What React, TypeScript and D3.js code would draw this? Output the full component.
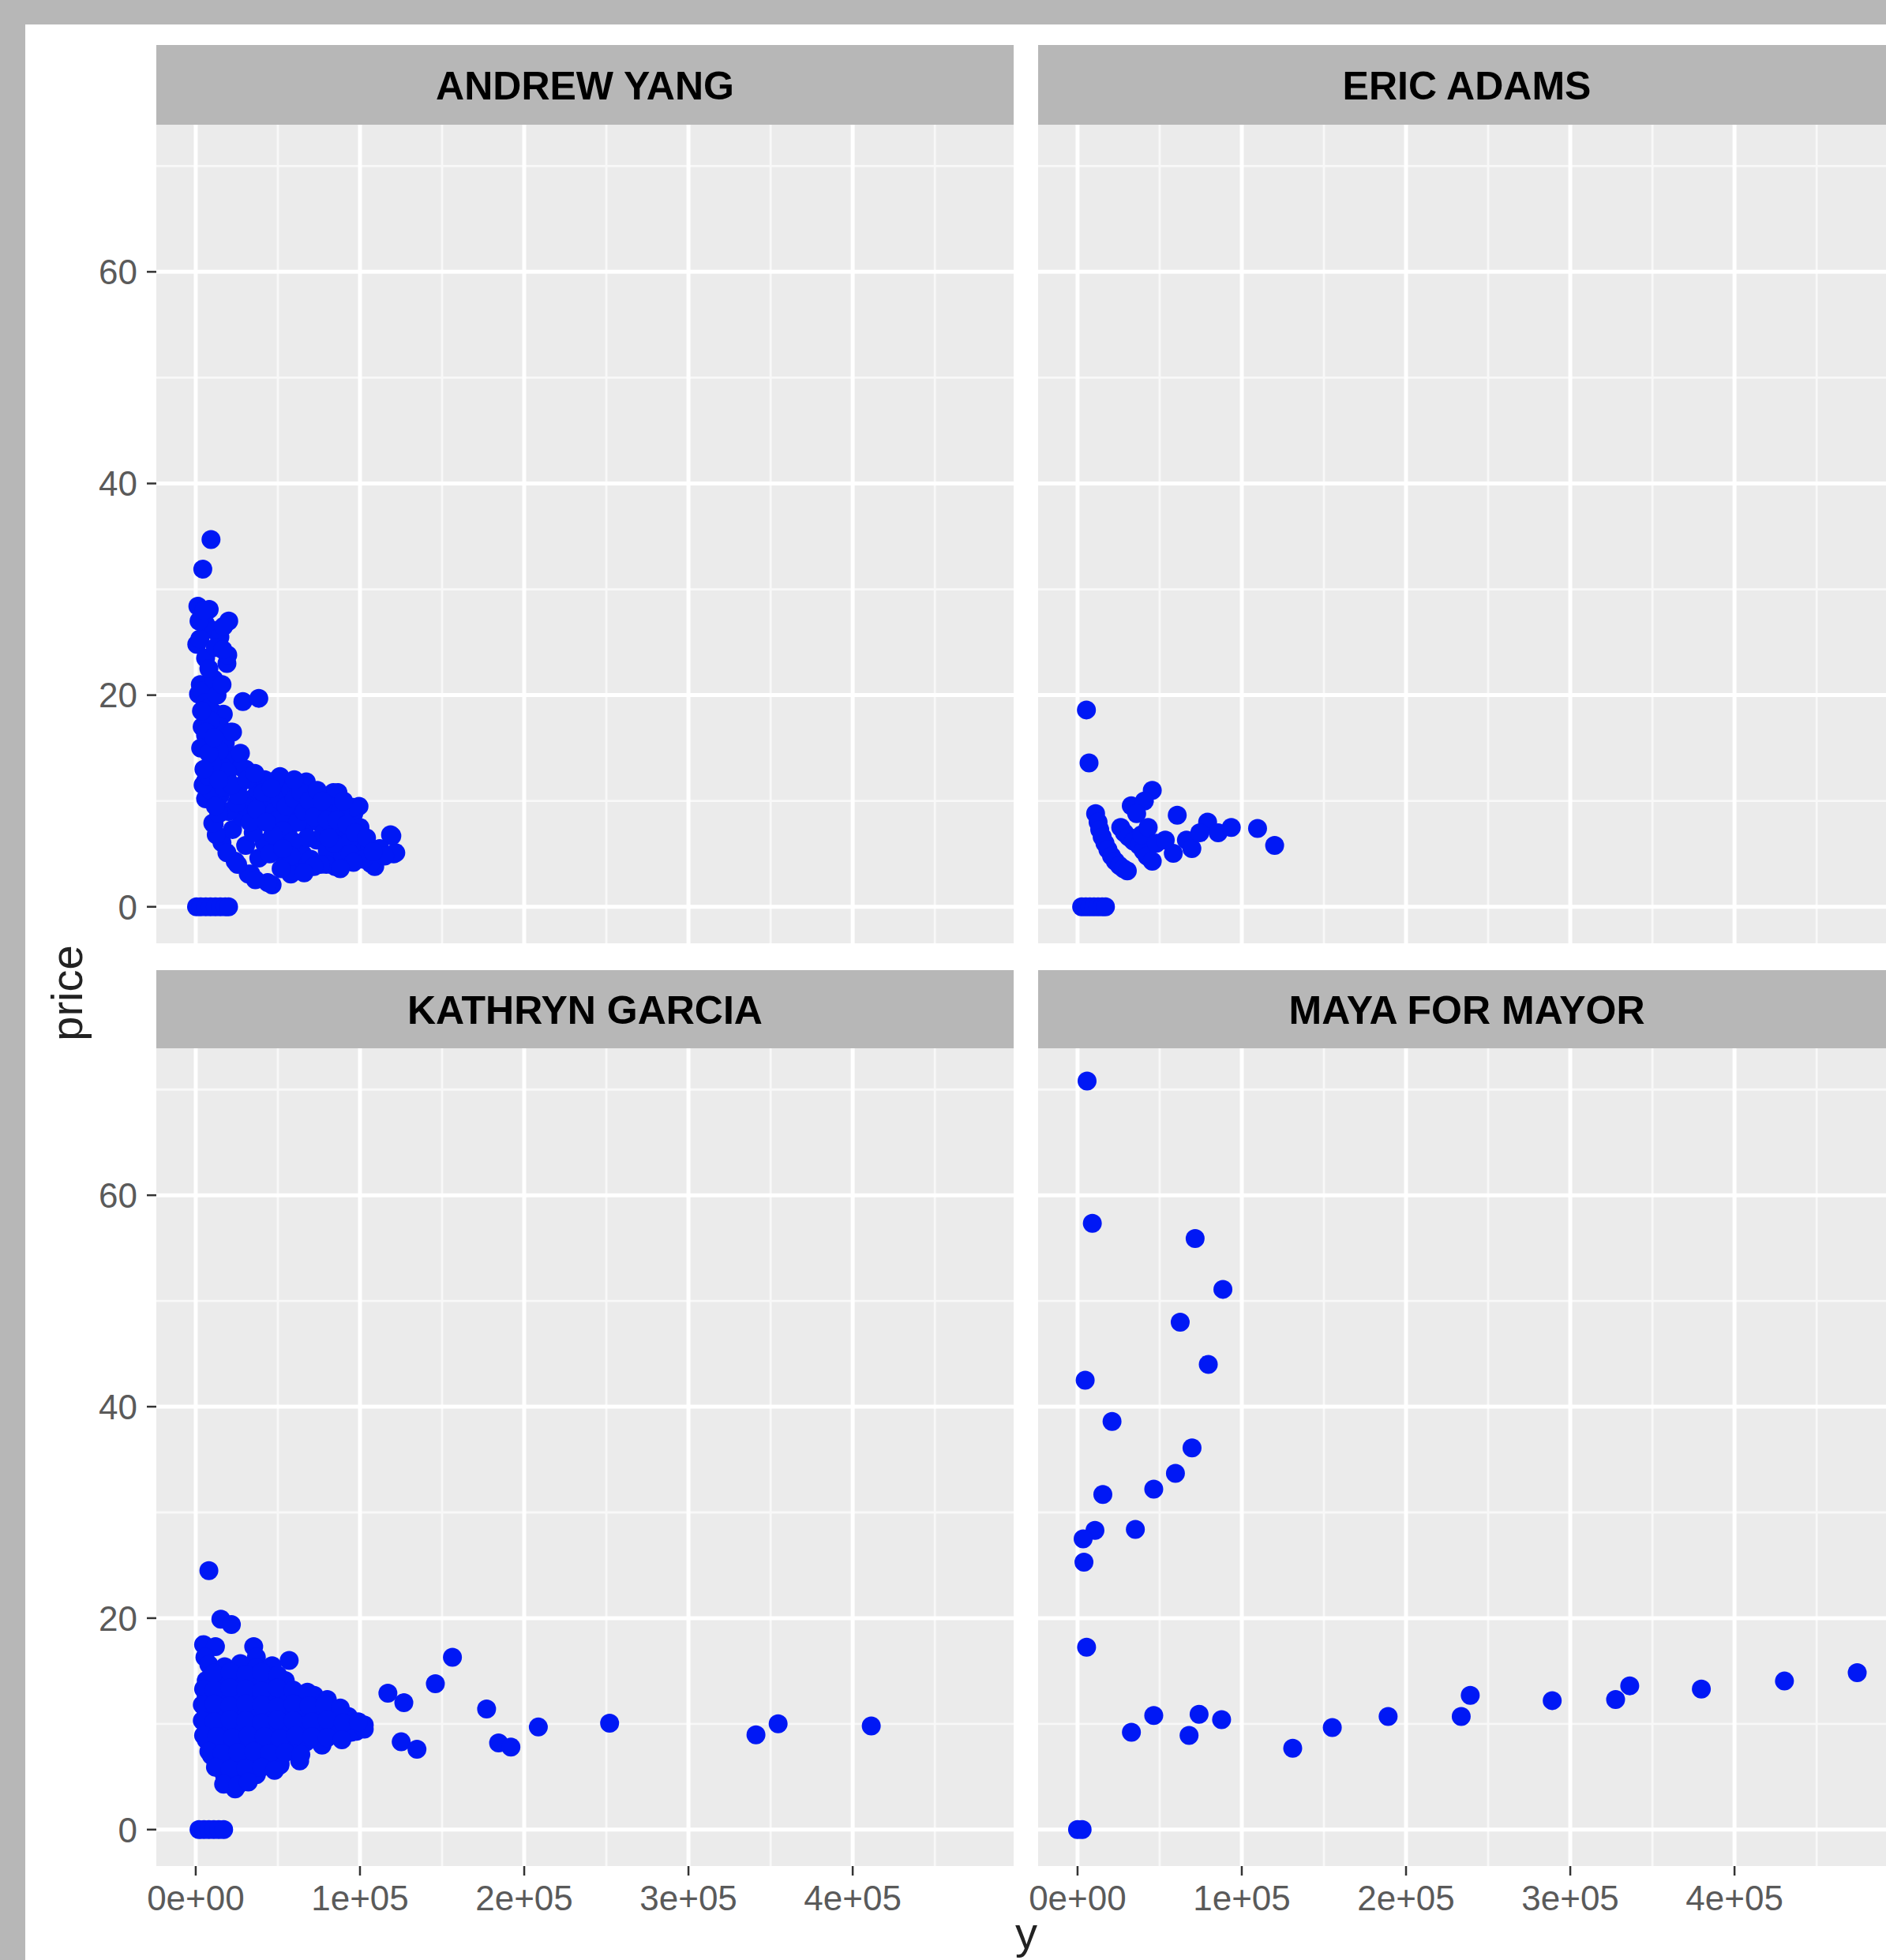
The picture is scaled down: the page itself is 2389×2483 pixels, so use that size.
import React from 'react';
import * as d3 from 'd3';

const W = 2389;
const H = 2483;

const panelNames = ['ANDREW YANG', 'ERIC ADAMS', 'KATHRYN GARCIA', 'MAYA FOR MAYOR'];

const yangData: [number, number][] = [
  [9300, 34.7], [4300, 31.9], [1300, 28.4], [8200, 28.1], [20100, 27.0], [6000, 26.7], [11400, 26.1],
  [14700, 25.5], [650, 24.8], [2500, 25.3], [6000, 23.5], [19000, 23.0], [19500, 23.8], [12000, 24.5],
  [16500, 24.3], [2800, 21.0], [1700, 20.1], [4000, 20.4], [6000, 19.3], [28700, 19.4], [38400, 19.7],
  [10400, 18.4], [16800, 18.2], [8000, 18.8], [3900, 17.0], [14700, 17.0], [21200, 16.5], [6000, 16.2],
  [9000, 17.6], [12500, 14.3], [23300, 14.2], [27600, 13.2], [15800, 13.3], [18000, 15.5], [6000, 11.9],
  [19000, 12.3], [6000, 10.2], [14700, 10.5], [25500, 11.1], [9000, 11.0], [4500, 11.5],
  [6400, 16.5], [22400, 16.5], [14400, 14.75], [27200, 14.5], [30400, 13.0], [8000, 12.3], [19200, 12.75],
  [51300, 12.3], [67300, 11.8], [86600, 10.8], [99400, 9.5], [118600, 6.8], [121800, 5.1], [109000, 3.8],
  [84900, 3.8], [46500, 2.07], [11200, 7.8], [16000, 6.05], [24000, 4.3], [33600, 3.1], [22400, 7.3],
  [30400, 5.8], [38400, 4.6], [35200, 10.3], [43300, 9.8], [54500, 10.8], [62500, 9.8], [73700, 10.5],
  [78500, 9.3], [57700, 8.5], [46500, 7.8], [67300, 7.8], [73700, 6.3], [86600, 7.3], [93000, 6.8],
  [80100, 5.3], [89800, 4.8], [99400, 6.05], [60900, 6.05], [54500, 4.55], [62500, 3.55], [51300, 6.3],
  [41700, 6.05], [105800, 5.55], [96200, 8.8],
  [48200, 11.9], [62200, 11.6], [67600, 11.3], [83800, 10.8], [95700, 9.4], [119400, 6.7], [120500, 5.0],
  [106500, 4.1], [92400, 6.0], [79500, 4.0], [57900, 3.1], [43800, 2.3], [32000, 3.1], [19000, 5.1],
  [12500, 6.8], [10400, 7.9], [25500, 4.0], [36300, 2.55],
  [40000, 8.5], [48000, 9.0], [52000, 10.0], [58000, 11.0], [70000, 9.0], [75000, 8.0], [82000, 9.5],
  [88000, 9.0], [65000, 5.0], [70000, 4.5], [76000, 4.0], [45000, 5.0], [35000, 7.0], [28000, 8.5],
  [30000, 9.5], [38000, 11.0], [42000, 12.0], [56000, 7.0], [62000, 8.0], [68000, 6.5], [78000, 7.0],
  [84000, 6.0], [94000, 5.0], [100000, 7.5], [102000, 4.5], [112000, 5.5], [115000, 4.8], [20000, 9.0],
  [25000, 9.8], [14000, 8.8], [17000, 11.3], [12000, 9.5],
  [33000, 8.0], [37000, 9.2], [41000, 10.8], [46000, 11.2], [50000, 8.2], [53000, 7.2], [55000, 9.5],
  [59000, 6.2], [60000, 10.2], [64000, 10.8], [66000, 9.0], [69000, 10.0], [72000, 8.5], [74000, 11.0],
  [77000, 10.0], [80000, 8.2], [81000, 6.5], [86000, 8.2], [90000, 10.0], [92000, 7.8], [97000, 7.0],
  [104000, 6.5], [108000, 5.2], [96000, 4.2], [88000, 3.6], [72000, 3.8], [66000, 3.2], [58000, 4.8],
  [52000, 3.6], [47000, 6.8], [53000, 5.5], [43000, 8.0], [26000, 10.5], [22000, 11.5], [31000, 12.0],
  [36000, 12.6], [60000, 12.0], [10000, 13.5], [14000, 12.0], [3000, 15.0], [8000, 14.5], [5000, 13.0],
  [11000, 21.5], [13000, 20.0], [8000, 22.5], [16000, 21.0], [3500, 18.5], [11000, 16.0], [2000, 27.0],
  [5000, 28.0], [17000, 26.5],
  [500, 0], [3000, 0], [6000, 0], [9000, 0], [12000, 0], [15000, 0], [18000, 0], [20000, 0],
];

const adamsData: [number, number][] = [
  [5400, 18.6], [7000, 13.6], [11000, 8.8], [12500, 8.0], [13500, 7.3], [15000, 6.6], [16700, 6.0],
  [18500, 5.4], [20700, 4.8], [23000, 4.3], [25500, 3.9], [28000, 3.6], [30300, 3.4], [32700, 9.55],
  [45500, 11.0], [40700, 10.0], [36000, 8.8], [26300, 7.5], [28500, 7.0], [31100, 6.6], [34000, 6.2],
  [37500, 5.8], [40000, 5.3], [42300, 4.8], [45500, 4.3], [39000, 6.8], [43000, 7.5], [48000, 6.0],
  [60700, 8.66], [58300, 5.05], [53400, 6.3], [66300, 6.3], [69600, 5.5], [79200, 8.0], [74400, 7.0],
  [85600, 7.0], [93600, 7.5], [109600, 7.4], [120000, 5.8],
  [2500, 0], [5000, 0], [7500, 0], [10000, 0], [12500, 0], [15000, 0], [17000, 0],
];

const garciaData: [number, number][] = [
  [8000, 24.5], [15300, 19.9], [21700, 19.4], [4800, 17.5], [12000, 17.3], [5600, 16.3], [35300, 17.3],
  [36900, 16.3], [56900, 16.0], [156300, 16.3], [145900, 13.8], [117000, 12.9], [126700, 12.0],
  [177100, 11.4], [184400, 8.2], [191900, 7.8], [208600, 9.7], [252000, 10.07], [341100, 8.96],
  [354600, 10.0], [411300, 9.8], [125100, 8.3], [134700, 7.6], [102600, 9.9], [97800, 9.3], [63300, 6.5],
  [51300, 6.1], [24000, 3.85],
  [8000, 15.6], [17600, 15.4], [27200, 15.7], [36900, 15.3], [46500, 15.5],
  [6400, 14.1], [16000, 13.9], [25600, 14.2], [35300, 14.0], [44900, 13.8], [54500, 14.1],
  [6400, 12.6], [14400, 12.4], [24000, 12.7], [33700, 12.5], [43300, 12.3], [52900, 12.6], [62500, 12.4],
  [72100, 12.7], [80100, 12.3],
  [6400, 11.1], [16000, 10.9], [25600, 11.2], [35300, 11.0], [44900, 10.8], [54500, 11.1], [65800, 11.2],
  [75400, 10.9], [84900, 11.0], [92900, 10.7],
  [8000, 9.6], [17600, 9.4], [27200, 9.7], [36900, 9.5], [46500, 9.3], [56100, 9.6], [65800, 9.8],
  [75400, 9.4], [84900, 9.6], [94600, 9.2], [102600, 9.5],
  [9600, 8.1], [19200, 7.9], [28800, 8.2], [38500, 8.0], [48100, 7.8], [57700, 8.1], [67300, 8.3], [76900, 8.0],
  [12800, 6.6], [22400, 6.4], [32100, 6.7], [41700, 6.5], [51300, 6.3],
  [17600, 5.1], [27200, 4.9], [36900, 5.2], [19200, 4.6], [22400, 4.3], [6400, 8.5], [9600, 7.0], [14400, 5.8],
  [11000, 14.8], [21000, 14.9], [30500, 14.7], [40000, 14.9], [50000, 14.6],
  [4800, 13.3], [11200, 13.2], [20800, 13.4], [30400, 13.3], [40100, 13.1], [49700, 13.4], [59300, 13.2], [68000, 13.0],
  [4000, 11.8], [11200, 11.9], [20800, 11.7], [30400, 11.9], [40100, 11.8], [49700, 11.6], [59300, 11.9],
  [68900, 11.7], [78500, 11.8], [88000, 11.5],
  [4000, 10.3], [11200, 10.2], [20800, 10.4], [30400, 10.3], [40100, 10.1], [49700, 10.4], [59300, 10.3],
  [70600, 10.2], [80100, 10.4], [89700, 10.1], [99000, 10.2],
  [4800, 8.9], [12800, 8.8], [22400, 8.7], [32100, 8.9], [41700, 8.8], [51300, 8.6], [60900, 8.9],
  [70600, 8.8], [80100, 8.7], [89000, 8.5],
  [8000, 7.4], [16000, 7.2], [25600, 7.3], [35300, 7.4], [44900, 7.2], [54500, 7.3], [64000, 7.1],
  [12000, 5.9], [20800, 5.7], [30400, 5.8], [40100, 5.9], [48000, 5.6],
  [17000, 4.3], [25600, 4.2], [32000, 4.5],
  [2000, 0], [5000, 0], [8000, 0], [11000, 0], [14000, 0], [17000, 0],
];

const mayaData: [number, number][] = [
  [5800, 70.8], [9000, 57.35], [71600, 55.9], [88500, 51.1], [62500, 48.0], [79600, 44.0], [4650, 42.5],
  [21000, 38.6], [69700, 36.1], [59600, 33.7], [46400, 32.2], [15400, 31.7], [10600, 28.3], [35200, 28.4],
  [3400, 27.5], [3900, 25.3], [5500, 17.25], [32800, 9.2], [46400, 10.8], [74000, 10.9], [67900, 8.9],
  [87700, 10.4], [131000, 7.7], [155100, 9.66], [189100, 10.7], [233600, 10.7], [239100, 12.7],
  [289000, 12.2], [327600, 12.3], [336200, 13.6], [379800, 13.3], [430400, 14.05], [474700, 14.85],
  [0, 0], [2800, 0],
];

const panelData = [yangData, adamsData, garciaData, mayaData];

const xTicks = [0, 100000, 200000, 300000, 400000];
const xTickLabels = ['0e+00', '1e+05', '2e+05', '3e+05', '4e+05'];
const xMinor = [50000, 150000, 250000, 350000, 450000];
const yTicks = [0, 20, 40, 60];
const yTickLabels = ['0', '20', '40', '60'];
const yMinor = [10, 30, 50, 70];

const xDomain: [number, number] = [-24000, 498000];
const yDomain: [number, number] = [-3.45, 73.9];

const colLeft = [198, 1315];
const panelW = 1086;
const stripTop = [57, 1229];
const stripH = [101, 99];
const panelTop = [158, 1328];
const panelH = [1037, 1036];

const FONT = "'Liberation Sans', Arial, Helvetica, sans-serif";
const STRIP_BG = '#b7b7b7';
const PANEL_BG = '#ebebeb';
const DOT = 'rgb(0,24,245)';

export default function App() {
  const panels = panelNames.map((name, i) => {
    const col = i % 2;
    const row = Math.floor(i / 2);
    const x0 = colLeft[col];
    const y0 = panelTop[row];
    const xs = d3.scaleLinear().domain(xDomain).range([x0, x0 + panelW]);
    const ys = d3.scaleLinear().domain(yDomain).range([y0 + panelH[row], y0]);
    return { name, col, row, x0, y0, xs, ys, data: panelData[i] };
  });

  return (
    <svg
      width={W}
      height={H}
      style={{ position: 'absolute', left: 0, top: 0, display: 'block' }}
      xmlns="http://www.w3.org/2000/svg"
    >
      <rect x={0} y={0} width={W} height={H} fill="#b7b7b7" />
      <rect x={32} y={31} width={W - 32} height={H - 31} fill="#ffffff" />
      {panels.map((p) => (
        <g key={p.name}>
          <defs>
            <clipPath id={`clip-${p.col}-${p.row}`}>
              <rect x={p.x0} y={p.y0} width={panelW} height={panelH[p.row]} />
            </clipPath>
          </defs>
          <rect x={p.x0} y={stripTop[p.row]} width={panelW} height={stripH[p.row]} fill={STRIP_BG} />
          <text
            x={p.x0 + panelW / 2}
            y={stripTop[p.row] + stripH[p.row] / 2 + 18}
            textAnchor="middle"
            fontFamily={FONT}
            fontWeight="bold"
            fontSize={50}
            fill="#000"
          >
            {p.name}
          </text>
          <rect x={p.x0} y={p.y0} width={panelW} height={panelH[p.row]} fill={PANEL_BG} />
          <g clipPath={`url(#clip-${p.col}-${p.row})`}>
            {yMinor.map((v) => (
              <line key={`ym${v}`} x1={p.x0} x2={p.x0 + panelW} y1={p.ys(v)} y2={p.ys(v)} stroke="#f8f8f8" strokeWidth={2.8} />
            ))}
            {xMinor.map((v) => (
              <line key={`xm${v}`} x1={p.xs(v)} x2={p.xs(v)} y1={p.y0} y2={p.y0 + panelH[p.row]} stroke="#f8f8f8" strokeWidth={2.8} />
            ))}
            {yTicks.map((v) => (
              <line key={`yM${v}`} x1={p.x0} x2={p.x0 + panelW} y1={p.ys(v)} y2={p.ys(v)} stroke="#ffffff" strokeWidth={5} />
            ))}
            {xTicks.map((v) => (
              <line key={`xM${v}`} x1={p.xs(v)} x2={p.xs(v)} y1={p.y0} y2={p.y0 + panelH[p.row]} stroke="#ffffff" strokeWidth={5} />
            ))}
            {p.data.map((d, j) => (
              <circle key={j} cx={p.xs(d[0])} cy={p.ys(d[1])} r={12} fill={DOT} />
            ))}
          </g>
          {p.col === 0 &&
            yTicks.map((v, k) => (
              <g key={`yt${v}`}>
                <line x1={p.x0 - 12} x2={p.x0} y1={p.ys(v)} y2={p.ys(v)} stroke="#333" strokeWidth={2.5} />
                <text
                  x={p.x0 - 24}
                  y={p.ys(v)}
                  dy="0.36em"
                  textAnchor="end"
                  fontFamily={FONT}
                  fontSize={44}
                  fill="#5a5a5a"
                >
                  {yTickLabels[k]}
                </text>
              </g>
            ))}
          {p.row === 1 &&
            xTicks.map((v, k) => (
              <g key={`xt${v}`}>
                <line x1={p.xs(v)} x2={p.xs(v)} y1={p.y0 + panelH[p.row]} y2={p.y0 + panelH[p.row] + 12} stroke="#333" strokeWidth={2.5} />
                <text
                  x={p.xs(v)}
                  y={2420}
                  textAnchor="middle"
                  fontFamily={FONT}
                  fontSize={44}
                  fill="#5a5a5a"
                >
                  {xTickLabels[k]}
                </text>
              </g>
            ))}
        </g>
      ))}
      <text
        transform="translate(104,1258) rotate(-90)"
        textAnchor="middle"
        fontFamily={FONT}
        fontSize={56}
        fill="#222"
      >
        price
      </text>
      <text x={1300} y={2468} textAnchor="middle" fontFamily={FONT} fontSize={56} fill="#222">
        y
      </text>
    </svg>
  );
}
